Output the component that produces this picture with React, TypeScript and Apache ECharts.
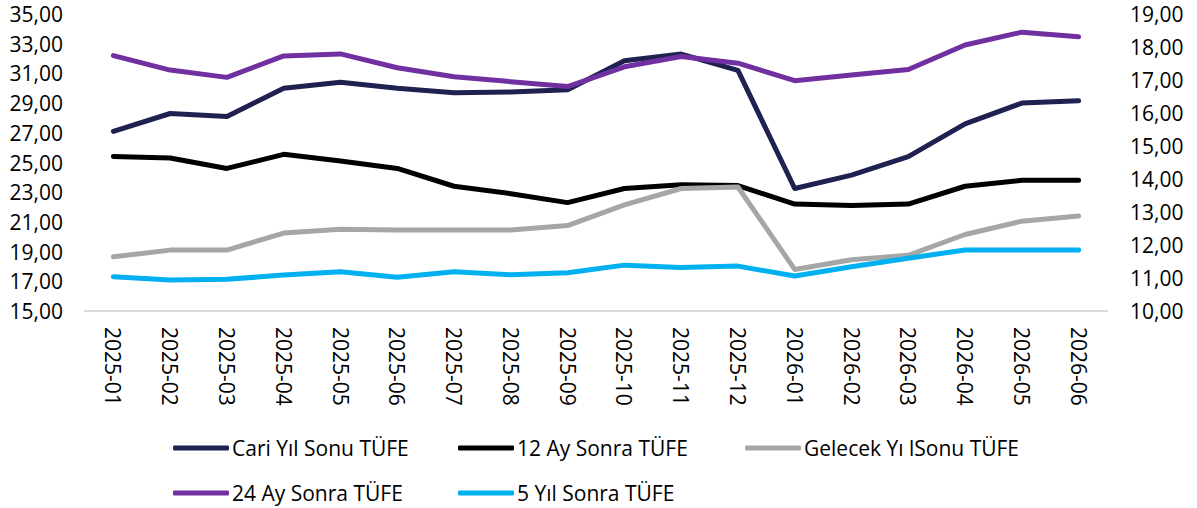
import React, { useEffect, useRef } from "react";
import * as echarts from "echarts";

const categories = [
  "2025-01", "2025-02", "2025-03", "2025-04", "2025-05", "2025-06",
  "2025-07", "2025-08", "2025-09", "2025-10", "2025-11", "2025-12",
  "2026-01", "2026-02", "2026-03", "2026-04", "2026-05", "2026-06",
];

const cariYilSonu = [27.1, 28.3, 28.1, 30.0, 30.4, 30.0, 29.7, 29.75, 29.9, 31.85, 32.3, 31.2, 23.25, 24.15, 25.4, 27.6, 29.0, 29.15];
const onIkiAySonra = [25.4, 25.3, 24.6, 25.55, 25.1, 24.6, 23.4, 22.9, 22.3, 23.25, 23.5, 23.45, 22.2, 22.1, 22.2, 23.4, 23.8, 23.8];
const gelecekYilSonu = [18.65, 19.1, 19.1, 20.25, 20.5, 20.45, 20.45, 20.45, 20.75, 22.15, 23.25, 23.35, 17.8, 18.45, 18.75, 20.15, 21.05, 21.4];
const yirmiDortAySonra = [17.74, 17.3, 17.08, 17.73, 17.79, 17.37, 17.1, 16.95, 16.8, 17.4, 17.71, 17.51, 16.98, 17.15, 17.32, 18.06, 18.45, 18.31];
const besYilSonra = [11.04, 10.94, 10.96, 11.09, 11.19, 11.02, 11.19, 11.1, 11.16, 11.39, 11.32, 11.36, 11.06, 11.34, 11.6, 11.85, 11.85, 11.85];

const seriesNames = [
  "Cari Yıl Sonu TÜFE",
  "12 Ay Sonra TÜFE",
  "Gelecek Yı lSonu TÜFE",
  "24 Ay Sonra TÜFE",
  "5 Yıl Sonra TÜFE",
];

const FONT = "'Open Sans', sans-serif";

export default function App() {
  const ref = useRef<HTMLDivElement>(null);
  useEffect(() => {
    document.body.style.margin = "0";
    if (!ref.current) return;
    const chart = echarts.init(ref.current, null, { renderer: "svg" });
    const fmt = (v: number) => v.toFixed(2).replace(".", ",");
    const mkSeries = (name: string, data: number[], color: string, yAxisIndex: number) => ({
      name,
      type: "line",
      data,
      yAxisIndex,
      symbol: "none",
      smooth: false,
      color,
      lineStyle: { width: 5, color, cap: "round", join: "round" },
    });
    const legendPos = [
      { left: 173, top: 436 },
      { left: 458, top: 436 },
      { left: 745, top: 436 },
      { left: 173, top: 481 },
      { left: 458, top: 481 },
    ];
    chart.setOption({
      animation: false,
      textStyle: { fontFamily: FONT },
      grid: { left: 85, right: 90, top: 14, height: 297 },
      legend: seriesNames.map((n, i) => ({
        data: [n],
        left: legendPos[i].left,
        top: legendPos[i].top,
        padding: 0,
        icon: "roundRect",
        itemWidth: 56,
        itemHeight: 5,
        itemGap: 0,
        selectedMode: false,
        textStyle: { fontSize: 21, fontFamily: FONT, color: "#000", lineHeight: 24, padding: [0, 0, 0, -2] },
      })),
      xAxis: {
        type: "category",
        data: categories,
        boundaryGap: true,
        axisLine: { lineStyle: { color: "#d9d9d9", width: 2 } },
        axisTick: { show: false },
        axisLabel: { rotate: -90, margin: 16, fontSize: 21, fontFamily: FONT, color: "#000", interval: 0 },
      },
      yAxis: [
        {
          type: "value",
          min: 15,
          max: 35,
          interval: 2,
          splitLine: { show: false },
          axisLine: { show: false },
          axisTick: { show: false },
          axisLabel: { formatter: fmt, fontSize: 21, fontFamily: FONT, color: "#000", margin: 22 },
        },
        {
          type: "value",
          min: 10,
          max: 19,
          interval: 1,
          splitLine: { show: false },
          axisLine: { show: false },
          axisTick: { show: false },
          axisLabel: { formatter: fmt, fontSize: 21, fontFamily: FONT, color: "#000", margin: 23 },
        },
      ],
      series: [
        mkSeries(seriesNames[0], cariYilSonu, "#1f2150", 0),
        mkSeries(seriesNames[1], onIkiAySonra, "#000000", 0),
        mkSeries(seriesNames[2], gelecekYilSonu, "#a6a6a6", 0),
        mkSeries(seriesNames[3], yirmiDortAySonra, "#7030a0", 1),
        mkSeries(seriesNames[4], besYilSonra, "#00b0f0", 1),
      ],
    });
    return () => chart.dispose();
  }, []);
  return <div ref={ref} style={{ width: 1197, height: 508 }} />;
}
